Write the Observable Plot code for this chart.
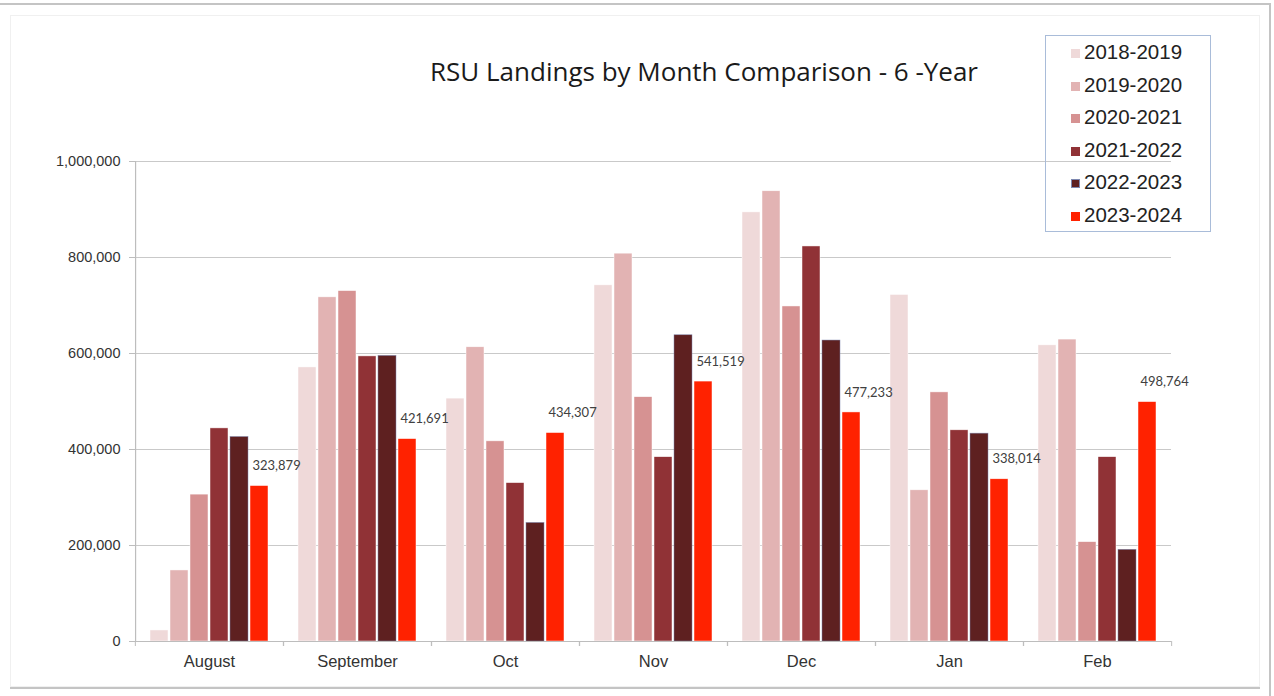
<!DOCTYPE html>
<html><head><meta charset="utf-8">
<script src="https://cdn.jsdelivr.net/npm/d3@7"></script>
<script src="https://cdn.jsdelivr.net/npm/@observablehq/plot@0.6"></script>
<style>
body{margin:0;background:#fff;}
#wrap{position:relative;width:1274px;height:696px;overflow:hidden;background:#fff;}
.ln{position:absolute;background:#c4c4c4;}
#panel{position:absolute;left:10px;top:15px;width:1250px;height:672px;border:1px solid #f0f0f0;box-sizing:border-box;}
#chart{position:absolute;left:0;top:0;}
#title{position:absolute;left:354px;top:53px;width:700px;text-align:center;font-family:"Open Sans",sans-serif;font-size:26px;color:#1a1a1a;white-space:nowrap;}
#legend{position:absolute;left:1045px;top:35px;width:166px;height:197px;border:1px solid #a9bcd9;box-sizing:border-box;font-family:"Liberation Sans",Arial,sans-serif;font-size:20.5px;color:#222;}
.item{position:absolute;left:25px;height:24px;line-height:24px;white-space:nowrap;}
.sw{display:inline-block;width:9px;height:9px;margin-right:4px;vertical-align:1px;box-sizing:border-box;}
</style></head><body>
<div id="wrap">
  <div id="panel"></div>
  <div class="ln" style="left:0;top:3px;width:1271px;height:2px;"></div>
  <div class="ln" style="left:1269px;top:3px;width:2px;height:693px;"></div>
  <div class="ln" style="left:10px;top:687px;width:1250px;height:2px;"></div>
  <div id="chart"></div>
  <div id="title">RSU Landings by Month Comparison - 6 -Year</div>
  <div id="legend"></div>
</div>
<script>
const months = ["August", "September", "Oct", "Nov", "Dec", "Jan", "Feb"];
const seasons = ["2018-2019", "2019-2020", "2020-2021", "2021-2022", "2022-2023", "2023-2024"];
const colors = ["#efd9d9", "#e2b3b3", "#d69292", "#903236", "#5e2020", "#ff2200"];
const s2018_2019 = [23000, 571000, 506000, 742000, 894000, 722000, 617000];
const s2019_2020 = [148000, 717000, 613000, 808000, 938000, 315000, 629000];
const s2020_2021 = [306000, 730000, 417000, 509000, 698000, 519000, 207000];
const s2021_2022 = [444000, 594000, 330000, 384000, 823000, 440000, 384000];
const s2022_2023 = [426000, 595000, 247000, 638000, 627000, 433000, 191000];
const s2023_2024 = [323879, 421691, 434307, 541519, 477233, 338014, 498764];
const yTicks = [0, 200000, 400000, 600000, 800000, 1000000];
const labelSeason = "2023-2024";

const seriesValues = [s2018_2019, s2019_2020, s2020_2021, s2021_2022, s2022_2023, s2023_2024];
const rows = [];
seasons.forEach((s, j) => months.forEach((m, i) => rows.push({month: m, season: s, value: seriesValues[j][i]})));
const labelRows = rows.filter(d => d.season === labelSeason);

const W = 1274, H = 696, mL = 134, mR = 102;
const padIn = 0.08, padOut = 0.73;
const facetW = (W - mL - mR) / months.length;
const half = facetW / 2;
const xStep = facetW / (seasons.length - padIn + 2 * padOut);
const leftEdge = padOut * xStep + xStep * (1 - padIn) / 2;
const fmt = d3.format(",");

const chart = Plot.plot({
  width: W, height: H,
  marginTop: 161, marginBottom: 55, marginLeft: mL, marginRight: mR,
  style: {background: "transparent", fontFamily: "Liberation Sans, Arial, sans-serif"},
  fx: {domain: months, padding: 0, label: null, axis: null},
  x: {domain: seasons, paddingInner: padIn, paddingOuter: padOut, axis: null},
  y: {domain: [0, 1000000], axis: null},
  color: {domain: seasons, range: colors},
  marks: [
    Plot.gridY(yTicks, {stroke: "#c9c9c9", strokeOpacity: 1, strokeWidth: 1}),
    Plot.barY(rows, {fx: "month", x: "season", y: "value", fill: "season",
      stroke: d => d.season === "2022-2023" ? "#7d88b0" : "#ffffff",
      strokeWidth: 0.6, strokeOpacity: 0.8}),
    Plot.text(labelRows, {fx: "month", x: "season", y: "value", text: d => fmt(d.value),
      textAnchor: "start", dx: -7, dy: -20, fontSize: 13, fill: "#404040",
      fontFamily: "Lato, Open Sans, sans-serif"}),
    Plot.ruleY([0], {stroke: "#bdbdbd", strokeWidth: 1.2}),
    Plot.ruleX([{month: months[0], season: seasons[0]}], {fx: "month", x: "season", dx: -leftEdge,
      y1: 0, y2: 1000000, stroke: "#bdbdbd", strokeWidth: 1.2}),
    Plot.axisY(yTicks, {tickSize: 6, tickPadding: 9, tickFormat: fmt, fontSize: 14.5, fill: "#333",
      stroke: "#bdbdbd", label: null}),
    Plot.axisFx({anchor: "bottom", tickSize: 0, tickPadding: 14, fontSize: 16.5, fill: "#333", label: null}),
    Plot.axisFx({anchor: "bottom", tickSize: 5, tickFormat: () => "", dx: -half, stroke: "#bdbdbd", label: null}),
    Plot.axisFx({anchor: "bottom", tickSize: 5, tickFormat: () => "", dx: half, stroke: "#bdbdbd", label: null})
  ]
});
document.getElementById("chart").appendChild(chart);

const legend = document.getElementById("legend");
seasons.forEach((s, j) => {
  const it = document.createElement("div");
  it.className = "item";
  it.style.top = (4 + j * 32.6) + "px";
  const sw = document.createElement("span");
  sw.className = "sw";
  sw.style.background = colors[j];
  if (s === "2022-2023") sw.style.border = "1px solid #7d88b0";
  it.appendChild(sw);
  it.appendChild(document.createTextNode(s));
  legend.appendChild(it);
});
</script>
</body></html>
